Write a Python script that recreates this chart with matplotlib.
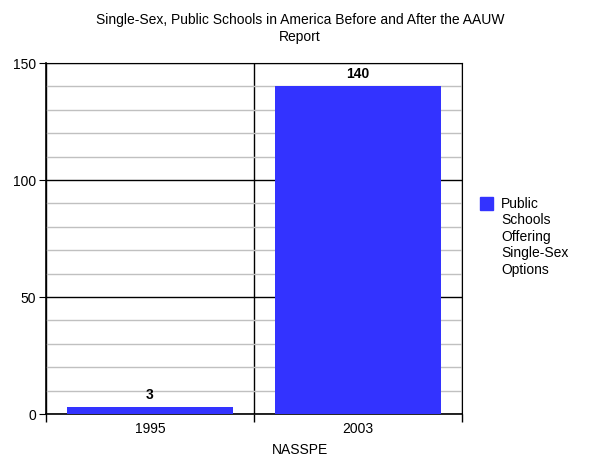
import matplotlib.pyplot as plt
from matplotlib.patches import Rectangle
from matplotlib.ticker import MultipleLocator, FixedLocator

plt.rcParams['font.family'] = ['Liberation Sans', 'DejaVu Sans']

years = ["1995", "2003"]
schools = [3, 140]
series_name = "Public\nSchools\nOffering\nSingle-Sex\nOptions"
bar_color = "#3333ff"

fig = plt.figure(figsize=(6, 4.63), dpi=100)
ax = fig.add_axes([0.0767, 0.1058, 0.6933, 0.758])

pos = list(range(len(years)))
bars = ax.bar(pos, schools, width=0.795, color=bar_color, zorder=3)
for b, v in zip(bars, schools):
    ax.text(b.get_x() + b.get_width() / 2, v + 2.2, str(v), ha="center", va="bottom",
            fontsize=10, fontweight="bold")

ax.set_xlim(-0.5, len(years) - 0.5)
ax.set_ylim(0, 150)

# category boundaries as tick marks / lines, labels centred
ax.xaxis.set_major_locator(FixedLocator([-0.5, 0.5, 1.5]))
ax.xaxis.set_minor_locator(FixedLocator(pos))
ax.set_xticklabels([])
ax.set_xticklabels(years, minor=True)
ax.tick_params(axis="x", which="major", length=6, width=1, color="black")
ax.tick_params(axis="x", which="minor", length=0, labelsize=10, pad=6)
ax.grid(axis="x", which="major", color="black", linewidth=1, zorder=1)

ax.yaxis.set_major_locator(MultipleLocator(50))
ax.yaxis.set_minor_locator(MultipleLocator(10))
ax.tick_params(axis="y", which="major", length=5, labelsize=10, pad=2)
ax.tick_params(axis="y", which="minor", length=0)
ax.grid(axis="y", which="minor", color="#c0c0c0", linewidth=1, zorder=1)
ax.grid(axis="y", which="major", color="black", linewidth=1, zorder=2)

for s in ["left", "bottom"]:
    ax.spines[s].set_linewidth(1.2)

fig.text(0.5, 1 - 450 / 463, "NASSPE", ha="center", va="center", fontsize=10)

fig.suptitle("Single-Sex, Public Schools in America Before and After the AAUW\nReport",
             fontsize=10, y=0.972, linespacing=1.25)

# legend: square beside the first line of the wrapped series name
fig.patches.append(Rectangle((480 / 600, 1 - 210 / 463), 13 / 600, 13 / 463,
                             transform=fig.transFigure, color=bar_color))
fig.text(501 / 600, 1 - 197 / 463, series_name, ha="left", va="top", fontsize=10,
         linespacing=1.22)

fig.savefig("out.png", dpi=100)
